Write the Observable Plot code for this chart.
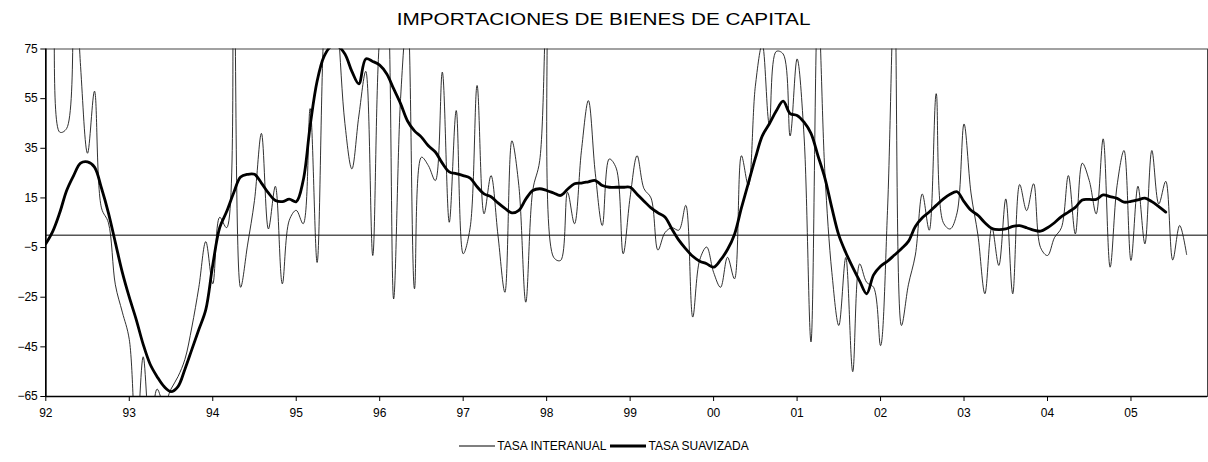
<!DOCTYPE html>
<html><head><meta charset="utf-8">
<script src="https://cdn.jsdelivr.net/npm/d3@7"></script>
<script src="https://cdn.jsdelivr.net/npm/@observablehq/plot@0.6"></script>
<style>
body{margin:0;background:#fff;font-family:"Liberation Sans",Arial,sans-serif;}
#title{height:36px;box-sizing:border-box;padding-top:11px;line-height:18px;text-align:center;color:#000;}
#title span{display:inline-block;font-size:17px;transform:scaleX(1.22);transform-origin:center;}
#legend{height:36px;display:flex;justify-content:center;align-items:center;font-size:12px;color:#000;padding-top:4px;box-sizing:border-box;}
#legend .item{display:flex;align-items:center;margin:0 2px;}
#legend svg{margin-right:2px;}
</style></head><body>
<div id="title"><span>IMPORTACIONES DE BIENES DE CAPITAL</span></div>
<div id="chart"></div>
<div id="legend"></div>
<script>
// Monthly series starting January 1992 (index 0)
const yearLabels = ["92","93","94","95","96","97","98","99","00","01","02","03","04","05"];
const yTicks = [75, 55, 35, 15, -5, -25, -45, -65];
const seriesNames = ["TASA INTERANUAL", "TASA SUAVIZADA"];

const tasaInteranual = [
  95, 110, 41.5, 43, 120, 68, 33, 58, 11, 5, -20, -31,
  -42, -85, -49, -80, -62, -68, -62, -57, -50, -37, -21, -2.6,
  -19.6, 7.2, 3, 115, -21, -4, 14, 41, 2.5, 19.7, -19.6, 6,
  10, 4.6, 51, -11, 85, 120, 85, 45, 26.7, 48, 66, -8.2,
  80, 100, -25.7, 55, 90, -21.6, 31.4, 28, 22, 65.7, 5.2, 50.2,
  -7.5, 3, 60.3, 8.6, 24, 0, -23, 38, 20, -27, 18, 30,
  95, -8.9, -10.2, 17.3, 4.6, 34, 54.2, 24.7, 3.9, 30.7, 27, -7.5,
  15.3, 32, 18.7, 15, -6, 1, 3, 2, 12, -33, -10, -4.8,
  -15, -21, -8.9, -17.6, 32, 20, 60, 77, 44.8, 74, 73, 40,
  71, 40, -43, 95, 25, -15, -36.4, -9, -55, -11.6, -19, -21,
  -44.5, 10, 100, -36.4, -20, -8, 16.6, 2, 57, 5.2, 2.5, 9,
  44.8, 17, 0, -23.6, 3.2, -12.2, 14.6, -23.6, 20.4, 9.9, 20.7, -5,
  -8.2, -1, 3, 24, 0.5, 29, 22, 8.6, 38.8, -12.9, 20, 34.1,
  -10.2, 19.7, -3.5, 34.1, 12.6, 21.7, -10, 3.9, -7.8
];

const tasaSuavizada = [
  -3.5, 1.5, 9, 18, 24, 29, 29.5, 27.4, 19, 9, -3, -15,
  -25, -34, -44, -52, -57, -61, -63, -61, -54, -46, -38, -30,
  -12, 3, 9.5, 17, 23.4, 24.5, 24.5, 21, 17, 14, 13.5, 14.5,
  13.5, 22, 44, 62, 72, 76, 76, 73, 66, 61, 71, 70,
  68.5, 65, 59, 53, 46, 42, 39.5, 36, 33.5, 29, 25.5, 24.8,
  24, 23, 19.5, 16.6, 15.5, 13, 10.8, 9, 10, 14.5, 18, 18.7,
  18, 17, 16, 18.5, 20.7, 21, 21.5, 22, 20, 19.3, 19.3, 19.3,
  19.3, 16.5, 13.7, 11, 9, 7.3, 2.5, -2, -5.5, -8.5, -10.5, -11.5,
  -12.9, -10, -5.8, 0.3, 11, 21, 31, 40, 44.8, 50, 54, 49,
  48.2, 45.5, 41, 32, 23, 11, 0, -7, -13, -18.5, -23.6, -16,
  -12.5, -10.5, -8, -5.5, -2.5, 3.5, 7, 9.3, 12, 14.5, 16.5, 17.5,
  13.5, 10, 8, 5, 2.7, 2.2, 2.5, 3.5, 3.8, 3, 2, 1.6,
  3, 5, 7.5, 9.3, 11.2, 14.2, 14.4, 14.4, 16.2, 15.5, 14.8, 13.3,
  13.6, 14.2, 14.9, 13.5, 11.5, 9.3
];

const thin = tasaInteranual.map((v, i) => ({m: i, v}));
const thick = tasaSuavizada.map((v, i) => ({m: i, v}));
const nMonths = yearLabels.length * 12 - 1;
const xTicks = yearLabels.map((_, i) => i * 12);

const chart = Plot.plot({
  width: 1208,
  height: 390,
  marginTop: 12.5,
  marginBottom: 30,
  marginLeft: 45.3,
  marginRight: 1,
  style: {fontFamily: "'Liberation Sans', Arial, sans-serif", fontSize: "12px", color: "#000", background: "#fff"},
  x: {domain: [0, nMonths], label: null},
  y: {domain: [-65, 75], label: null},
  marks: [
    Plot.frame({stroke: "#444", strokeWidth: 1}),
    Plot.ruleY([0], {stroke: "#000", strokeWidth: 1}),
    Plot.line(thin, {x: "m", y: "v", stroke: "#1a1a1a", strokeWidth: 0.9, curve: "catmull-rom", clip: true}),
    Plot.line(thick, {x: "m", y: "v", stroke: "#000", strokeWidth: 2.8, curve: "catmull-rom", clip: true}),
    Plot.ruleX([0], {stroke: "#000", strokeWidth: 1.6}),
    Plot.ruleY([-65], {stroke: "#000", strokeWidth: 1.6}),
    Plot.axisX({ticks: xTicks, tickFormat: d => yearLabels[d / 12], tickSize: 5, tickPadding: 7, label: null}),
    Plot.axisY({ticks: yTicks, tickSize: 5, tickPadding: 3, label: null})
  ]
});
document.getElementById("chart").appendChild(chart);

const legend = document.getElementById("legend");
const styles = [{stroke: "#555", w: 1.3}, {stroke: "#000", w: 3}];
seriesNames.forEach((name, i) => {
  const item = document.createElement("div");
  item.className = "item";
  item.innerHTML = `<svg width="36" height="10"><line x1="0" x2="36" y1="5" y2="5" stroke="${styles[i].stroke}" stroke-width="${styles[i].w}"/></svg><span>${name}</span>`;
  legend.appendChild(item);
});
</script>
</body></html>
